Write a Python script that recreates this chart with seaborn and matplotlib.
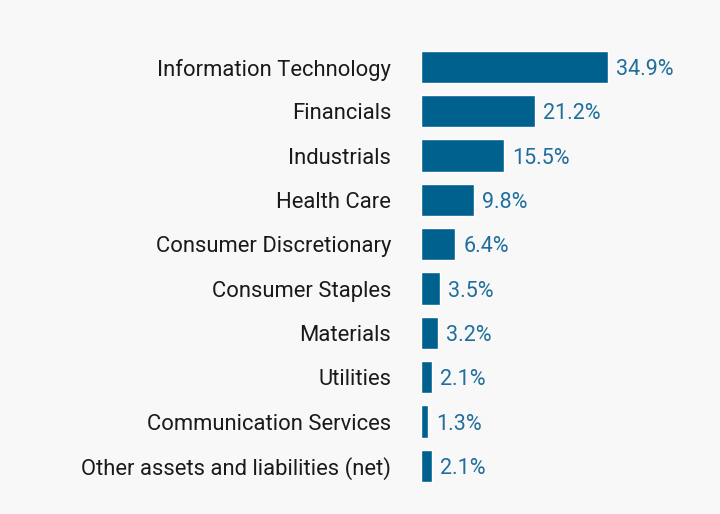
import matplotlib
matplotlib.use("Agg")
import matplotlib.pyplot as plt
import seaborn as sns
import pandas as pd

categories = ["Information Technology", "Financials", "Industrials", "Health Care",
              "Consumer Discretionary", "Consumer Staples", "Materials", "Utilities",
              "Communication Services", "Other assets and liabilities (net)"]
values = [34.9, 21.2, 15.5, 9.8, 6.4, 3.5, 3.2, 2.1, 1.3, 2.1]
value_labels = ["34.9%", "21.2%", "15.5%", "9.8%", "6.4%", "3.5%", "3.2%", "2.1%", "1.3%", "2.1%"]

sns.set_theme(style="white")
plt.rcParams['font.family'] = ['Roboto', 'DejaVu Sans']

bg = "#F8F8F8"
bar_color = "#00618F"

df = pd.DataFrame({"cat": categories, "val": values})

fig = plt.figure(figsize=(7.2, 5.14), dpi=100, facecolor=bg)
ax = fig.add_axes([421/720, 1-488/514, (700-421)/720, (488-44.85)/514])
ax.set_facecolor(bg)
sns.barplot(data=df, x="val", y="cat", color=bar_color, width=0.73, ax=ax, saturation=1)
ax.set_xlim(0, (700-421)/5.36)
ax.set_ylim(9.5, -0.5)
for s in ax.spines.values():
    s.set_visible(False)
ax.set_xticks([])
ax.set_xlabel("")
ax.set_ylabel("")
ax.tick_params(axis="y", length=0, pad=21.5, labelsize=15.8, labelcolor="#1a1a1a")
for lbl in ax.get_yticklabels():
    lbl.set_verticalalignment("center_baseline")
for i, (v, lab) in enumerate(zip(values, value_labels)):
    ax.annotate(lab, xy=(v, i), xytext=(5.8, 0), textcoords="offset points",
                va="center_baseline", ha="left", fontsize=15.5, color="#1F6E9C")

fig.savefig("out.png", dpi=100, facecolor=bg)
